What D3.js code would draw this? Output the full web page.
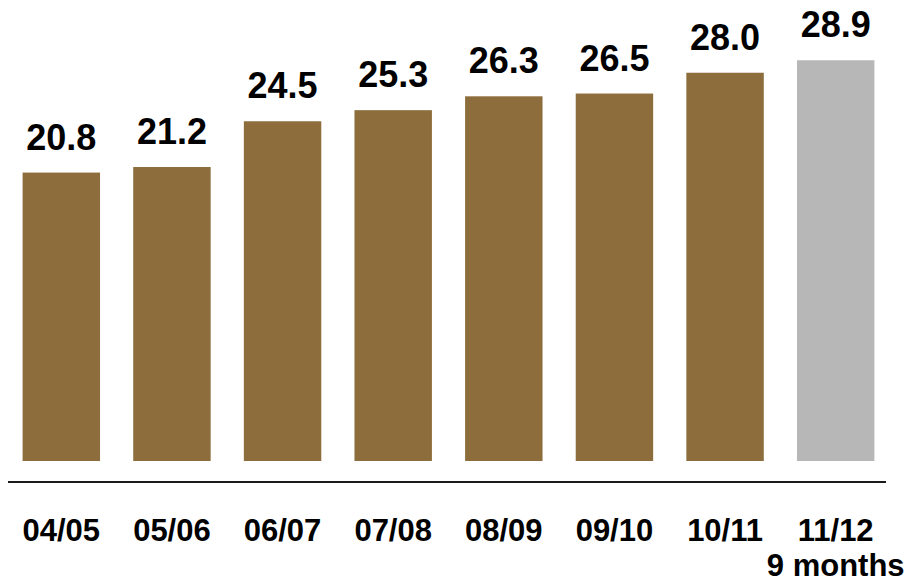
<!DOCTYPE html>
<html>
<head>
<meta charset="utf-8">
<script src="https://cdn.jsdelivr.net/npm/d3@7"></script>
<style>
  body { margin: 0; background: #fff; }
  text { font-family: Arial, "Liberation Sans", sans-serif; font-weight: bold; fill: #000; }
</style>
</head>
<body>
<div id="chart"></div>
<script>
// data
const years = ["04/05", "05/06", "06/07", "07/08", "08/09", "09/10", "10/11", "11/12"];
const values = [20.8, 21.2, 24.5, 25.3, 26.3, 26.5, 28.0, 28.9];
const partial = [false, false, false, false, false, false, false, true];
const subLabels = ["", "", "", "", "", "", "", "9 months"];

const width = 912, height = 582;
const brown = "#8c6d3b", grey = "#b7b7b7";

let svg = d3.select("#chart").append("svg")
    .attr("width", width)
    .attr("height", height);

let x = d3.scaleBand()
    .domain(years)
    .range([6, 891])
    .paddingInner(0.3)
    .paddingOuter(0.15);

let y = d3.scaleLinear()
    .domain([0, 30])
    .range([461, 45]);

let rows = years.map((d, i) => ({year: d, value: values[i], partial: partial[i], sub: subLabels[i]}));

// bars
svg.append("g").selectAll("rect")
    .data(rows)
    .enter().append("rect")
    .attr("x", d => x(d.year))
    .attr("y", d => y(d.value))
    .attr("width", x.bandwidth())
    .attr("height", d => y(0) - y(d.value))
    .attr("fill", d => d.partial ? grey : brown);

// value labels
svg.append("g").selectAll("text")
    .data(rows)
    .enter().append("text")
    .attr("x", d => x(d.year) + x.bandwidth() / 2)
    .attr("y", d => y(d.value) - 23)
    .attr("text-anchor", "middle")
    .style("font-size", "36px")
    .text(d => d.value.toFixed(1));

// baseline
svg.append("line")
    .attr("x1", 8)
    .attr("x2", 886)
    .attr("y1", 482)
    .attr("y2", 482)
    .attr("stroke", "#1a1a1a")
    .attr("stroke-width", 2);

// category labels
let labels = svg.append("g").selectAll("text")
    .data(rows)
    .enter().append("text")
    .attr("x", d => x(d.year) + x.bandwidth() / 2)
    .attr("y", 541)
    .attr("text-anchor", "middle")
    .style("font-size", "31px");

labels.append("tspan").text(d => d.year);
labels.filter(d => d.sub)
    .append("tspan")
    .attr("x", d => x(d.year) + x.bandwidth() / 2)
    .attr("dy", 35)
    .text(d => d.sub);
</script>
</body>
</html>
